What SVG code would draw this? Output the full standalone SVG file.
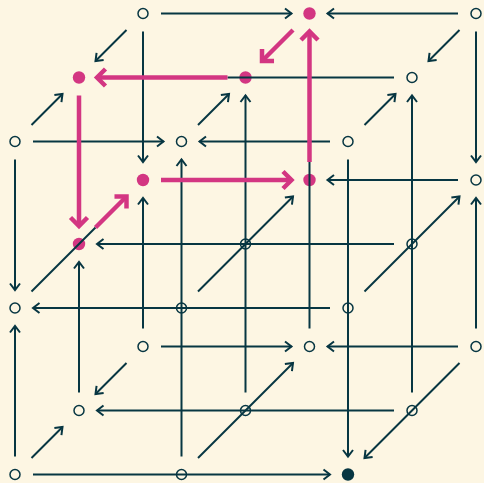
<svg xmlns="http://www.w3.org/2000/svg" width="484" height="483" viewBox="0 0 484 483">
<style>
.e{fill:none;stroke:#073642;stroke-width:2}
.ea{fill:none;stroke:#073642;stroke-width:2;marker-end:url(#ad)}
.m{fill:none;stroke:#d33682;stroke-width:4.5;marker-end:url(#am)}
.n{fill:none;stroke:#073642;stroke-width:1.5}
.nm{fill:#d33682;stroke:none}
.nd{fill:#073642;stroke:none}
</style>
<defs>
<marker id="ad" markerUnits="userSpaceOnUse" orient="auto" overflow="visible" markerWidth="1" markerHeight="1">
<path d="M-6.5,-5 L0,0 L-6.5,5" fill="none" stroke="#073642" stroke-width="2"/>
</marker>
<marker id="am" markerUnits="userSpaceOnUse" orient="auto" overflow="visible" markerWidth="1" markerHeight="1">
<path d="M-8.5,-8.5 L0,0 L-8.5,8.5" fill="none" stroke="#d33682" stroke-width="4.5"/>
</marker>
</defs>
<rect width="484" height="483" fill="#fdf6e3"/>
<g id="nodes">
<g id="n000"><circle class="n" cx="15" cy="141.5" r="5"/></g>
<g id="n100"><circle class="n" cx="181.5" cy="141.5" r="5"/></g>
<g id="n200"><circle class="n" cx="348" cy="141.5" r="5"/></g>
<g id="n010"><circle class="n" cx="15" cy="308" r="5"/></g>
<g id="n110"><circle class="n" cx="181.5" cy="308" r="5"/></g>
<g id="n210"><circle class="n" cx="348" cy="308" r="5"/></g>
<g id="n020"><circle class="n" cx="15" cy="474.5" r="5"/></g>
<g id="n120"><circle class="n" cx="181.5" cy="474.5" r="5"/></g>
<g id="n220"><circle class="nd" cx="348" cy="474.5" r="6.2"/></g>
<g id="n001"><circle class="nm" cx="79" cy="77.5" r="6.2"/></g>
<g id="n101"><circle class="nm" cx="245.5" cy="77.5" r="6.2"/></g>
<g id="n201"><circle class="n" cx="412" cy="77.5" r="5"/></g>
<g id="n011"><circle class="nm" cx="79" cy="244" r="6.2"/></g>
<g id="n111"><circle class="n" cx="245.5" cy="244" r="5"/></g>
<g id="n211"><circle class="n" cx="412" cy="244" r="5"/></g>
<g id="n021"><circle class="n" cx="79" cy="410.5" r="5"/></g>
<g id="n121"><circle class="n" cx="245.5" cy="410.5" r="5"/></g>
<g id="n221"><circle class="n" cx="412" cy="410.5" r="5"/></g>
<g id="n002"><circle class="n" cx="143" cy="13.5" r="5"/></g>
<g id="n102"><circle class="nm" cx="309.5" cy="13.5" r="6.2"/></g>
<g id="n202"><circle class="n" cx="476" cy="13.5" r="5"/></g>
<g id="n012"><circle class="nm" cx="143" cy="180" r="6.2"/></g>
<g id="n112"><circle class="nm" cx="309.5" cy="180" r="6.2"/></g>
<g id="n212"><circle class="n" cx="476" cy="180" r="5"/></g>
<g id="n022"><circle class="n" cx="143" cy="346.5" r="5"/></g>
<g id="n122"><circle class="n" cx="309.5" cy="346.5" r="5"/></g>
<g id="n222"><circle class="n" cx="476" cy="346.5" r="5"/></g>
</g>
<g id="connectors">
<line class="ea" x1="161" y1="13.5" x2="291.5" y2="13.5"/>
<line class="ea" x1="458" y1="13.5" x2="327.5" y2="13.5"/>
<line class="ea" x1="458" y1="180" x2="327.5" y2="180"/>
<line class="ea" x1="161" y1="346.5" x2="291.5" y2="346.5"/>
<line class="ea" x1="458" y1="346.5" x2="327.5" y2="346.5"/>
<line class="e" x1="394" y1="77.5" x2="227.5" y2="77.5"/>
<line class="ea" x1="394" y1="244" x2="97" y2="244"/>
<line class="ea" x1="394" y1="410.5" x2="97" y2="410.5"/>
<line class="ea" x1="33" y1="141.5" x2="163.5" y2="141.5"/>
<line class="ea" x1="330" y1="141.5" x2="199.5" y2="141.5"/>
<line class="ea" x1="330" y1="308" x2="33" y2="308"/>
<line class="ea" x1="33" y1="474.5" x2="330" y2="474.5"/>
<line class="ea" x1="15" y1="159.5" x2="15" y2="290"/>
<line class="ea" x1="15" y1="456.5" x2="15" y2="326"/>
<line class="ea" x1="181.5" y1="456.5" x2="181.5" y2="159.5"/>
<line class="ea" x1="348" y1="159.5" x2="348" y2="456.5"/>
<line class="ea" x1="79" y1="392.5" x2="79" y2="262"/>
<line class="ea" x1="245.5" y1="392.5" x2="245.5" y2="95.5"/>
<line class="ea" x1="412" y1="392.5" x2="412" y2="95.5"/>
<line class="ea" x1="143" y1="31.5" x2="143" y2="162"/>
<line class="ea" x1="143" y1="328.5" x2="143" y2="198"/>
<line class="e" x1="309.5" y1="328.5" x2="309.5" y2="162"/>
<line class="ea" x1="476" y1="31.5" x2="476" y2="162"/>
<line class="ea" x1="476" y1="328.5" x2="476" y2="198"/>
<line class="ea" x1="31.5" y1="125" x2="62.5" y2="94"/>
<line class="ea" x1="126.5" y1="30" x2="95.5" y2="61"/>
<line class="ea" x1="198" y1="125" x2="229" y2="94"/>
<line class="ea" x1="364.5" y1="125" x2="395.5" y2="94"/>
<line class="ea" x1="459.5" y1="30" x2="428.5" y2="61"/>
<line class="e" x1="31.5" y1="291.5" x2="95.5" y2="227.5"/>
<line class="ea" x1="198" y1="291.5" x2="293" y2="196.5"/>
<line class="ea" x1="364.5" y1="291.5" x2="459.5" y2="196.5"/>
<line class="ea" x1="31.5" y1="458" x2="62.5" y2="427"/>
<line class="ea" x1="126.5" y1="363" x2="95.5" y2="394"/>
<line class="ea" x1="198" y1="458" x2="293" y2="363"/>
<line class="ea" x1="459.5" y1="363" x2="364.5" y2="458"/>
<line class="m" x1="309.5" y1="162" x2="309.5" y2="31.5"/>
<line class="m" x1="293" y1="30" x2="262" y2="61"/>
<line class="m" x1="227.5" y1="77.5" x2="97" y2="77.5"/>
<line class="m" x1="79" y1="95.5" x2="79" y2="226"/>
<line class="m" x1="95.5" y1="227.5" x2="126.5" y2="196.5"/>
<line class="m" x1="161" y1="180" x2="291.5" y2="180"/>
</g>
</svg>
